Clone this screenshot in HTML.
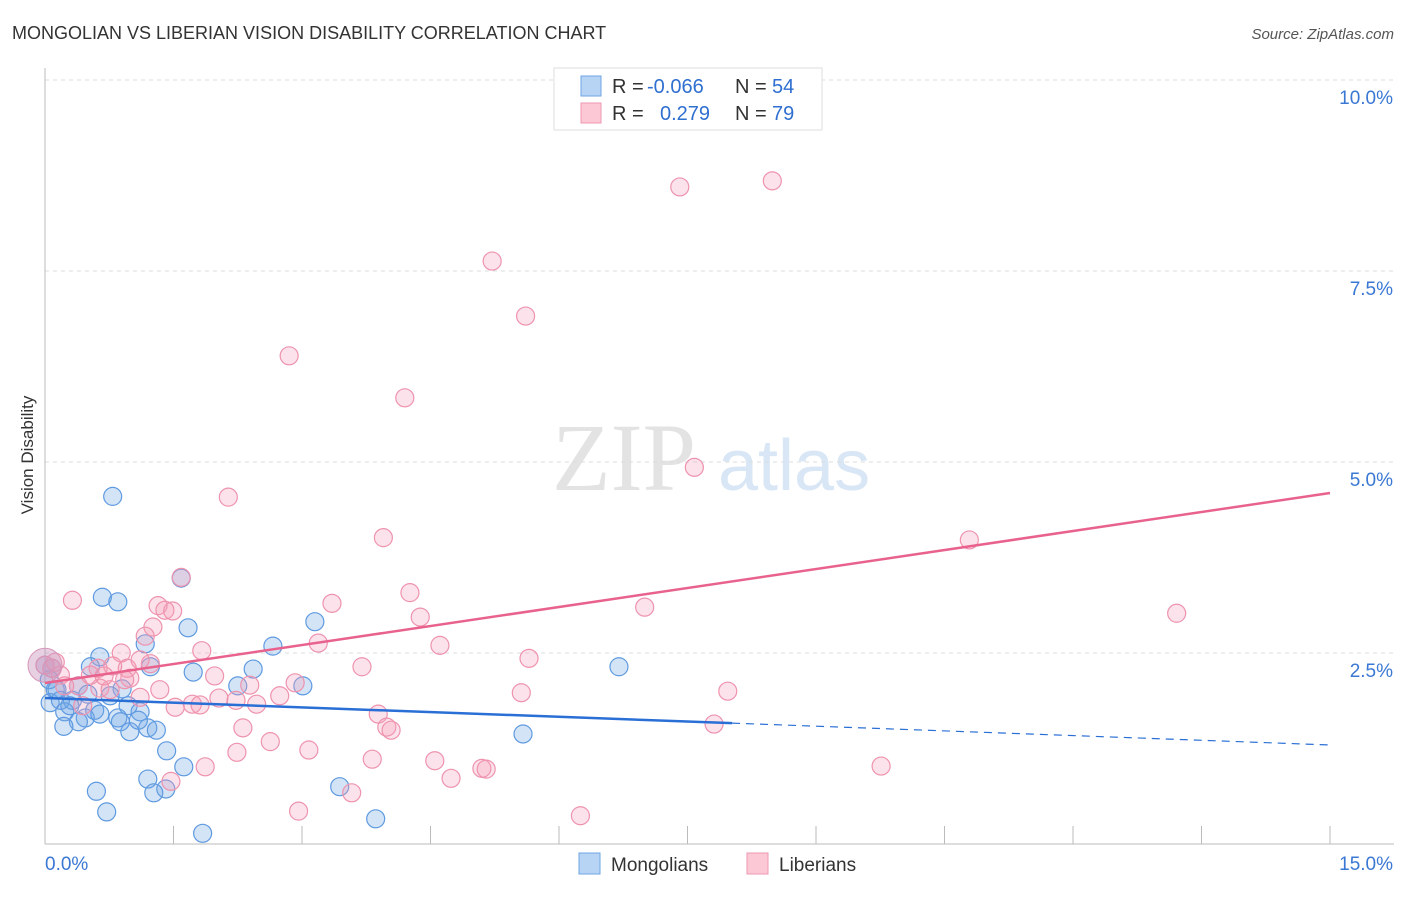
<!DOCTYPE html>
<html><head><meta charset="utf-8"><style>
body{margin:0;background:#fff;font-family:"Liberation Sans",sans-serif}
svg text{font-family:"Liberation Sans",sans-serif}
</style></head><body>
<svg id="chart" width="1406" height="892" viewBox="0 0 1406 892">
<text x="12" y="39" font-size="18" fill="#333">MONGOLIAN VS LIBERIAN VISION DISABILITY CORRELATION CHART</text>
<text x="1394" y="39" font-size="15" fill="#555" text-anchor="end" font-style="italic">Source: ZipAtlas.com</text>
<text x="33" y="455" font-size="17" fill="#333" text-anchor="middle" transform="rotate(-90 33 455)">Vision Disability</text>
<g>
<text x="552" y="490" font-size="96" fill="#e3e3e3" font-family="Liberation Serif" style="font-family:'Liberation Serif',serif">ZIP</text>
<text x="718" y="490" font-size="72" fill="#d8e6f5">atlas</text>
</g>
<g id="grid"></g>
<g id="axes"></g>
<g id="marks"></g>
<g id="trends"></g>
<g>
<rect x="554" y="68" width="268" height="62" fill="#fff" stroke="#ddd"/>
<rect x="581" y="76" width="20" height="20" fill="#b8d4f5" stroke="#6fa3e3"/>
<rect x="581" y="103" width="20" height="20" fill="#fcc8d6" stroke="#ef98b3"/>
<text x="612" y="93" font-size="20" fill="#333">R =</text>
<text x="647" y="93" font-size="20" fill="#2f6fd0">-0.066</text>
<text x="735" y="93" font-size="20" fill="#333">N =</text>
<text x="772" y="93" font-size="20" fill="#2f6fd0">54</text>
<text x="612" y="120" font-size="20" fill="#333">R =</text>
<text x="660" y="120" font-size="20" fill="#2f6fd0">0.279</text>
<text x="735" y="120" font-size="20" fill="#333">N =</text>
<text x="772" y="120" font-size="20" fill="#2f6fd0">79</text>
</g>
<g>
<rect x="579" y="853" width="21" height="21" fill="#b8d4f5" stroke="#6fa3e3"/>
<text x="611" y="871" font-size="19" fill="#333">Mongolians</text>
<rect x="747" y="853" width="21" height="21" fill="#fcc8d6" stroke="#ef98b3"/>
<text x="779" y="871" font-size="19" fill="#333">Liberians</text>
</g>
</svg>
<script>
const blueX=[0.79,0.67,0.85,1.59,1.67,1.17,0.64,0.53,1.23,1.73,2.43,2.66,3.15,2.25,3.01,6.70,0.90,0.76,0.39,0.32,0.12,0.06,0.18,0.23,0.47,0.58,0.39,0.85,0.97,1.11,0.99,1.20,1.30,0.88,0.22,1.42,1.62,1.20,1.41,1.27,0.60,0.72,1.84,3.44,3.86,5.58,0.05,0.08,0.00,0.14,0.29,0.64,1.09,0.50];
const blueY=[4.55,3.23,3.17,3.48,2.83,2.62,2.45,2.32,2.32,2.25,2.29,2.59,2.91,2.07,2.07,2.32,2.03,1.94,2.07,1.88,2.02,1.85,1.88,1.73,1.65,1.75,1.60,1.65,1.81,1.73,1.47,1.52,1.49,1.60,1.54,1.22,1.01,0.85,0.72,0.67,0.69,0.42,0.14,0.75,0.33,1.44,2.15,2.30,2.34,2.02,1.81,1.70,1.62,1.96];
const pinkX=[7.41,8.49,5.22,5.61,2.85,4.20,7.58,2.14,3.95,10.79,0.32,1.59,1.32,1.40,1.49,4.26,3.35,7.00,13.21,4.38,1.26,1.17,3.19,4.61,1.83,0.89,1.23,0.62,5.65,3.70,0.96,0.79,1.98,2.92,2.39,2.74,5.56,7.97,2.03,1.72,2.23,2.47,1.52,1.11,0.64,0.39,0.18,0.08,0.44,0.76,3.89,3.99,4.04,2.31,7.81,2.63,2.24,3.08,3.82,4.55,5.10,5.15,9.76,1.87,1.47,4.74,3.58,2.96,6.25,0.00,0.12,0.99,0.53,0.23,1.81,1.34,0.93,1.11,0.69];
const pinkY=[8.60,8.68,7.63,6.91,6.39,5.84,4.93,4.54,4.01,3.98,3.19,3.49,3.12,3.06,3.05,3.29,3.15,3.10,3.02,2.97,2.84,2.72,2.63,2.60,2.53,2.50,2.36,2.30,2.43,2.32,2.30,2.33,2.20,2.11,2.08,1.94,1.98,2.00,1.91,1.83,1.88,1.83,1.79,1.92,2.04,2.07,2.21,2.30,1.81,2.02,1.70,1.53,1.49,1.52,1.57,1.34,1.20,1.23,1.11,1.09,0.99,0.98,1.02,1.01,0.82,0.86,0.67,0.43,0.37,2.34,2.38,2.17,2.21,2.07,1.82,2.02,2.15,2.41,2.20];
const yTicks=[2.5,5.0,7.5,10.0];
const yTickLabels=["2.5%","5.0%","7.5%","10.0%"];
const xTicks=[0,1.5,3,4.5,6,7.5,9,10.5,12,13.5,15];
const pinkTrend=[2.107,4.594];
const blueTrend=[1.911,1.296];
const blueSolidEnd=8.02;

const X0=45,X1=1330,Y0=844,YT=80;
const sx=v=>X0+(v/15)*(X1-X0);
const sy=v=>Y0-(v/10)*(Y0-YT);
const NS="http://www.w3.org/2000/svg";
function mk(parent,tag,attrs){const e=document.createElementNS(NS,tag);for(const k in attrs)e.setAttribute(k,attrs[k]);document.getElementById(parent).appendChild(e);return e;}

yTicks.forEach((t,i)=>{
 const g=mk('grid','line',{x1:X0,x2:1394,y1:sy(t),y2:sy(t),stroke:'#ddd','stroke-dasharray':'4,4'});
 
 
 const l=mk('axes','text',{x:1393,y:sy(t)+24,'font-size':19,fill:'#3a78d4','text-anchor':'end'});
 l.textContent=yTickLabels[i];
 
 
});
const tg=mk('grid','line',{x1:X0,x2:1394,y1:YT,y2:YT,stroke:'#ddd','stroke-dasharray':'4,4'});


const ya=mk('axes','line',{x1:X0,x2:X0,y1:68,y2:Y0,stroke:'#bbb'});


const xa=mk('axes','line',{x1:X0,x2:1394,y1:Y0,y2:Y0,stroke:'#bbb'});


xTicks.forEach(t=>{
 const l=mk('axes','line',{x1:sx(t),x2:sx(t),y1:Y0-18,y2:Y0,stroke:'#bbb'});
 
 
});
const xl0=mk('axes','text',{x:45,y:870,'font-size':19,fill:'#3a78d4'});xl0.textContent='0.0%';


const xl1=mk('axes','text',{x:1393,y:870,'font-size':19,fill:'#3a78d4','text-anchor':'end'});xl1.textContent='15.0%';



blueX.forEach((v,i)=>{
 const c=mk('marks','circle',{cx:sx(v),cy:sy(blueY[i]),r:9,fill:'rgba(110,165,230,0.3)',stroke:'#5f9ae0','stroke-width':1.2});
 
 
});
pinkX.forEach((v,i)=>{
 const c=mk('marks','circle',{cx:sx(v),cy:sy(pinkY[i]),r:9,fill:'rgba(245,160,185,0.3)',stroke:'#ee93ae','stroke-width':1.2});
 
 
});
const big=mk('marks','circle',{cx:sx(pinkX[69]),cy:sy(pinkY[69]),r:17,fill:'rgba(200,150,190,0.45)',stroke:'#d895b8'});



const pl=mk('trends','line',{x1:sx(0),y1:sy(pinkTrend[0]),x2:sx(15),y2:sy(pinkTrend[1]),stroke:'#e8628d','stroke-width':2.5});


const bm=blueTrend[0]+(blueTrend[1]-blueTrend[0])*blueSolidEnd/15;
const bl=mk('trends','line',{x1:sx(0),y1:sy(blueTrend[0]),x2:sx(blueSolidEnd),y2:sy(bm),stroke:'#2a6fd6','stroke-width':2.5});


const bd=mk('trends','line',{x1:sx(blueSolidEnd),y1:sy(bm),x2:sx(15),y2:sy(blueTrend[1]),stroke:'#2a6fd6','stroke-width':1.2,'stroke-dasharray':'8,6'});


</script>
</body></html>
